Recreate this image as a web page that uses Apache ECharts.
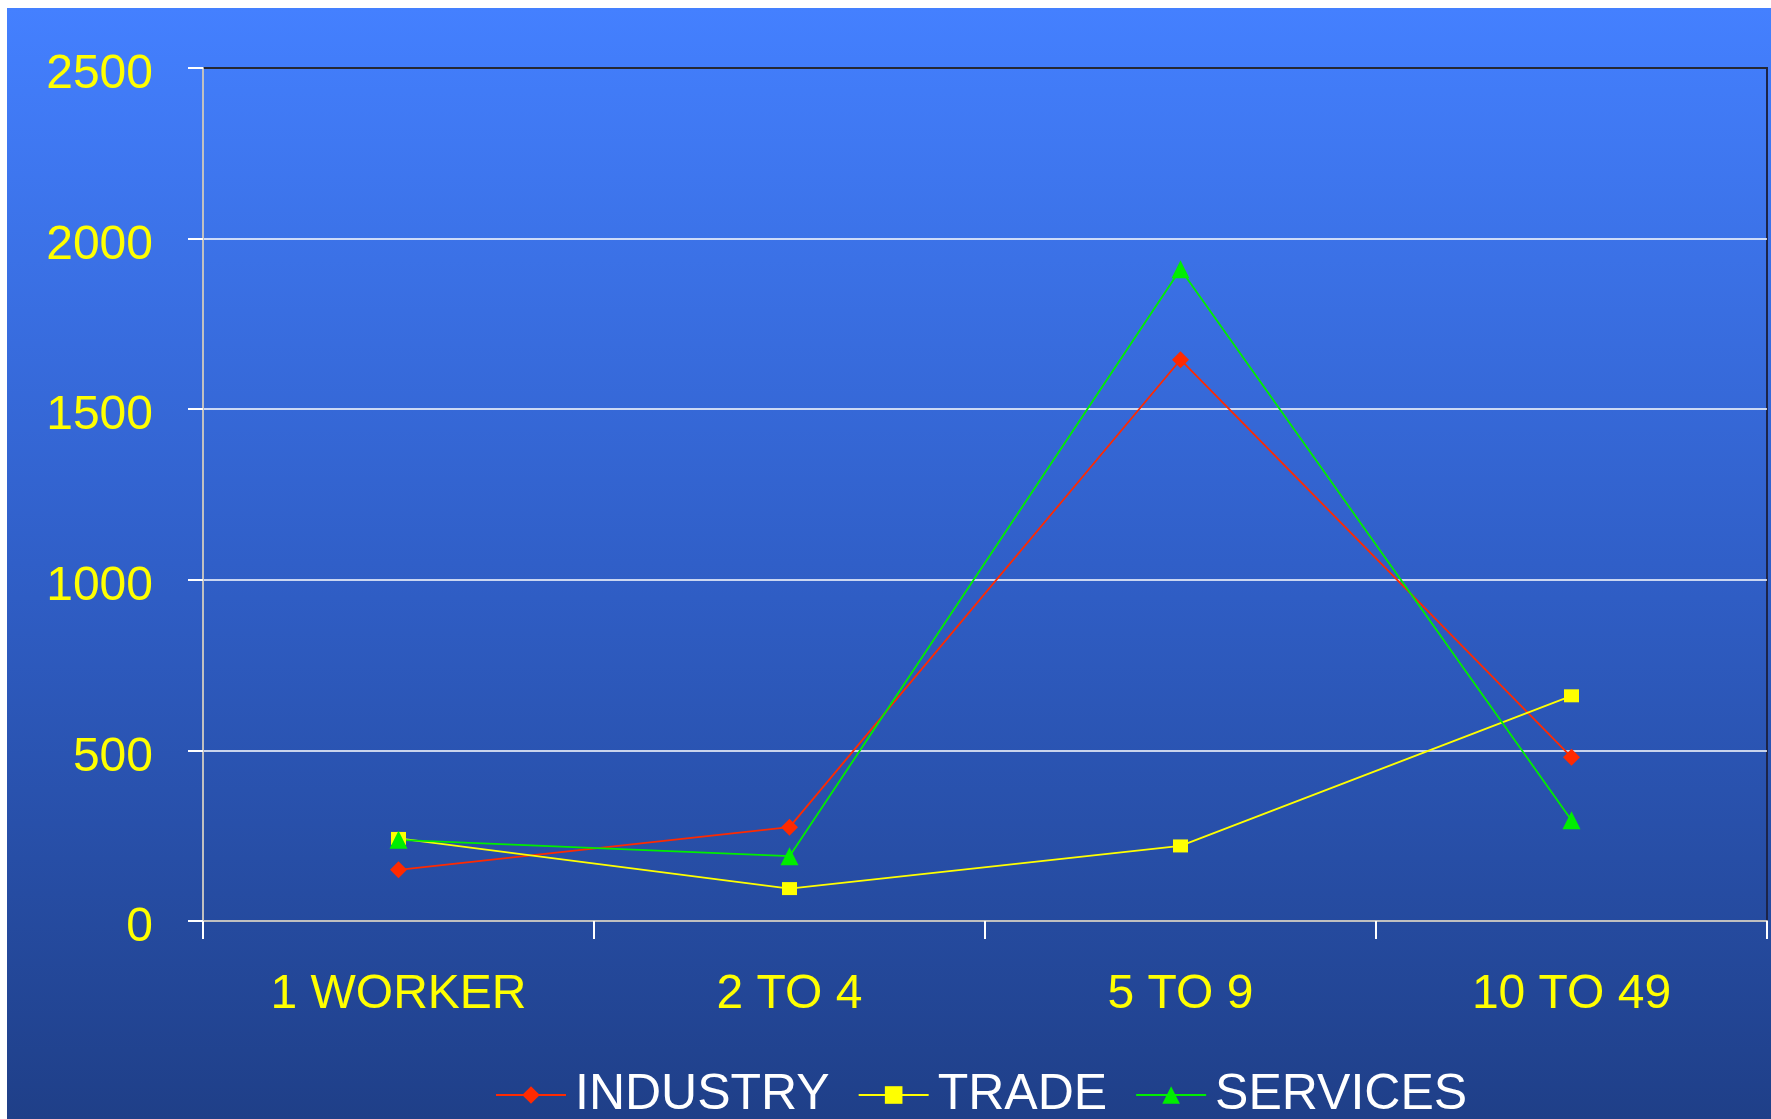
<!DOCTYPE html>
<html>
<head>
<meta charset="utf-8">
<script src="https://cdn.jsdelivr.net/npm/echarts@6/dist/echarts.min.js"></script>
<style>
html,body{margin:0;padding:0;background:#fff;}
#c{width:1771px;height:1119px;}
</style>
</head>
<body>
<div id="c"></div>
<script>
const categories = ['1 WORKER', '2 TO 4', '5 TO 9', '10 TO 49'];
const industry = [150, 275, 1645, 480];
const trade = [242, 95, 220, 660];
const services = [238, 190, 1910, 295];
const yTicks = [0, 500, 1000, 1500, 2000, 2500];

const chart = echarts.init(document.getElementById('c'), null, {renderer: 'canvas'});
const font = 'Liberation Sans, Arial, sans-serif';
chart.setOption({
  backgroundColor: '#ffffff',
  animation: false,
  graphic: [{
    type: 'rect', z: -10, silent: true,
    shape: {x: 7, y: 8, width: 1764, height: 1111},
    style: {
      fill: new echarts.graphic.LinearGradient(0, 0, 0, 1, [
        {offset: 0, color: '#4480ff'},
        {offset: 0.5, color: '#305fc8'},
        {offset: 1, color: '#1f3f88'}
      ])
    }
  }],
  grid: {
    left: 203, top: 68, right: 4, bottom: 198,
    show: true, borderColor: '#1c2448', borderWidth: 2, backgroundColor: 'transparent'
  },
  legend: {
    left: 490, top: 1065,
    itemWidth: 70, itemHeight: 22, itemGap: 28,
    textStyle: {color: '#ffffff', fontSize: 50, fontFamily: font, lineHeight: 50, padding: [0, 0, 0, 4]},
    data: ['INDUSTRY', 'TRADE', 'SERVICES']
  },
  xAxis: {
    type: 'category',
    data: categories,
    boundaryGap: true,
    axisLine: {lineStyle: {color: '#c0c0c0', width: 2}},
    axisTick: {show: true, length: 18, lineStyle: {color: '#ffffff', width: 2}},
    axisLabel: {color: '#ffff00', fontSize: 48, fontFamily: font, lineHeight: 48, margin: 50},
    splitLine: {show: false}
  },
  yAxis: {
    type: 'value',
    min: 0, max: 2500, interval: 500,
    axisLine: {show: true, lineStyle: {color: '#c0c0c0', width: 2}},
    axisTick: {show: true, length: 15, lineStyle: {color: '#ffffff', width: 2}},
    axisLabel: {color: '#ffff00', fontSize: 48, fontFamily: font, margin: 50,
      verticalAlign: 'top', lineHeight: 14,
      formatter: v => yTicks.includes(v) ? String(v) : ''},
    splitLine: {show: true, lineStyle: {color: ['#ffffff','#ffffff','#ffffff','#ffffff','#ffffff','#2a2a2a'], width: 1.5}}
  },
  series: [
    {name: 'INDUSTRY', type: 'line', data: industry, symbol: 'diamond', symbolSize: 17,
      lineStyle: {color: '#ff2a00', width: 1.8}, itemStyle: {color: '#ff2a00'}},
    {name: 'TRADE', type: 'line', data: trade, symbol: 'rect', symbolSize: [15, 13],
      lineStyle: {color: '#ffff00', width: 1.8}, itemStyle: {color: '#ffff00'}},
    {name: 'SERVICES', type: 'line', data: services, symbol: 'triangle', symbolSize: 18,
      lineStyle: {color: '#00ee00', width: 1.8}, itemStyle: {color: '#00ee00'}}
  ]
});
</script>
</body>
</html>
